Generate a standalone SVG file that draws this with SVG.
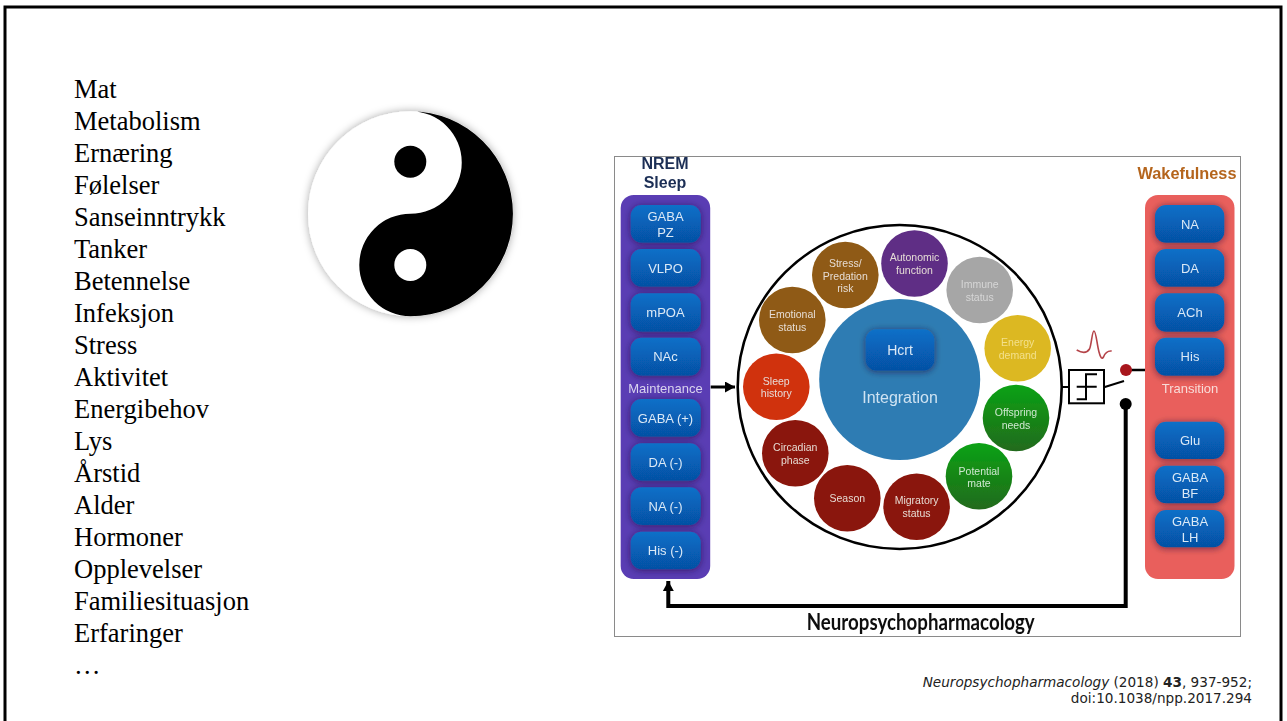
<svg xmlns="http://www.w3.org/2000/svg" width="1287" height="721" viewBox="0 0 1287 721">
<style>
.list{font-family:"Liberation Serif","Times New Roman",serif;font-size:26.5px;fill:#000}
.cite{font-family:"DejaVu Sans",Verdana,sans-serif;font-size:13.6px;fill:#222;text-anchor:end}
.t{font-family:"Liberation Sans",Arial,sans-serif;text-anchor:middle}
.c{font-size:10.5px;fill:#e6dcd6}
.g{fill:#cfe8cf}
.b{font-size:13px;fill:#dbe9f6}
.m{font-size:13px;fill:#d9d4ee}
.tr{font-size:13px;fill:#f8dcd8}
.box{fill:url(#bg);filter:url(#bs)}
.wire{fill:none;stroke:#000;stroke-linecap:butt}
</style>
<defs>
<linearGradient id="bg" x1="0" y1="0" x2="0" y2="1"><stop offset="0" stop-color="#0870c8"/><stop offset="1" stop-color="#0650a4"/></linearGradient>
<linearGradient id="gr" x1="0" y1="0" x2="0" y2="1"><stop offset="0" stop-color="#0ba214"/><stop offset="1" stop-color="#226a1c"/></linearGradient>
<filter id="bs" x="-30%" y="-40%" width="160%" height="180%"><feDropShadow dx="0" dy="1" stdDeviation="3.5" flood-color="#200830" flood-opacity=".6"/></filter>
<filter id="soft" x="-5%" y="-5%" width="110%" height="110%"><feGaussianBlur stdDeviation="0.5"/></filter>
<filter id="yy" x="-10%" y="-10%" width="120%" height="120%"><feDropShadow dx="0" dy="0" stdDeviation="4" flood-color="#000" flood-opacity=".35"/></filter>
<marker id="ah" markerUnits="userSpaceOnUse" markerWidth="12" markerHeight="12" refX="10" refY="5.5" orient="auto"><path d="M0 0L10 5.5L0 11Z" fill="#000"/></marker>
<clipPath id="fig"><rect x="615" y="157" width="625" height="479"/></clipPath>
</defs>

<rect width="1287" height="721" fill="#fff"/>
<path id="frame" d="M5 721V7H1281V721" fill="none" stroke="#000" stroke-width="3"/>

<g id="word-list" class="list">
<text x="74" y="98">Mat</text>
<text x="74" y="130">Metabolism</text>
<text x="74" y="162">Ernæring</text>
<text x="74" y="194">Følelser</text>
<text x="74" y="226">Sanseinntrykk</text>
<text x="74" y="258">Tanker</text>
<text x="74" y="290">Betennelse</text>
<text x="74" y="322">Infeksjon</text>
<text x="74" y="354">Stress</text>
<text x="74" y="386">Aktivitet</text>
<text x="74" y="418">Energibehov</text>
<text x="74" y="450">Lys</text>
<text x="74" y="482">Årstid</text>
<text x="74" y="514">Alder</text>
<text x="74" y="546">Hormoner</text>
<text x="74" y="578">Opplevelser</text>
<text x="74" y="610">Familiesituasjon</text>
<text x="74" y="642">Erfaringer</text>
<text x="74" y="674">…</text>
</g>

<g id="yin-yang">
<circle cx="410.5" cy="213.7" r="102.5" fill="#fff" filter="url(#yy)"/>
<path d="M410.5 111.2A102.5 102.5 0 0 1 410.5 316.2A51.25 51.25 0 0 1 410.5 213.7A51.25 51.25 0 0 0 410.5 111.2Z" fill="#000"/>
<circle cx="410.3" cy="161.7" r="16" fill="#000"/>
<circle cx="410.3" cy="265" r="16" fill="#fff"/>
</g>

<rect id="figure-frame" x="614.5" y="156.5" width="626" height="480" fill="#fff" stroke="#8a8a8a"/>

<g clip-path="url(#fig)">
<g filter="url(#soft)">
<g id="title-nrem" class="t" font-weight="700" font-size="16px" fill="#1b2f55">
<text x="665" y="169">NREM</text><text x="665" y="188">Sleep</text>
</g>
<text id="title-wake" class="t" x="1187" y="179" font-weight="700" font-size="16.3px" fill="#b5651d">Wakefulness</text>

<g id="panel-nrem">
<rect x="620.7" y="195" width="89.5" height="384" rx="13" fill="#5a3db4"/>
<text class="t m" x="665.5" y="392.5">Maintenance</text>
</g>
<g id="panel-wake">
<rect x="1145" y="195" width="89.5" height="384" rx="13" fill="#e95f5c"/>
<text class="t tr" x="1190" y="392.5">Transition</text>
</g>

<g id="n-gabapz"><rect class="box" x="630.7" y="205" width="70" height="37.7" rx="11"/><text class="t b" x="665.5" y="221">GABA</text><text class="t b" x="665.5" y="237">PZ</text></g>
<g id="n-vlpo"><rect class="box" x="630.7" y="249" width="70" height="37.7" rx="11"/><text class="t b" x="665.5" y="272.5">VLPO</text></g>
<g id="n-mpoa"><rect class="box" x="630.7" y="293.3" width="70" height="38.4" rx="11"/><text class="t b" x="665.5" y="317">mPOA</text></g>
<g id="n-nac"><rect class="box" x="630.7" y="337.7" width="70" height="38" rx="11"/><text class="t b" x="665.5" y="361">NAc</text></g>
<g id="n-gabap"><rect class="box" x="630.7" y="399" width="70" height="37.7" rx="11"/><text class="t b" x="665.5" y="422.5">GABA (+)</text></g>
<g id="n-dam"><rect class="box" x="630.7" y="443.3" width="70" height="37.4" rx="11"/><text class="t b" x="665.5" y="467">DA (-)</text></g>
<g id="n-nam"><rect class="box" x="630.7" y="487.3" width="70" height="37.7" rx="11"/><text class="t b" x="665.5" y="511">NA (-)</text></g>
<g id="n-hism"><rect class="box" x="630.7" y="531.7" width="70" height="37.6" rx="11"/><text class="t b" x="665.5" y="555">His (-)</text></g>

<g id="n-na"><rect class="box" x="1155" y="205" width="69.3" height="37.7" rx="11"/><text class="t b" x="1190" y="228.5">NA</text></g>
<g id="n-da"><rect class="box" x="1155" y="249" width="69.3" height="37.7" rx="11"/><text class="t b" x="1190" y="272.5">DA</text></g>
<g id="n-ach"><rect class="box" x="1155" y="293.3" width="69.3" height="38.4" rx="11"/><text class="t b" x="1190" y="317">ACh</text></g>
<g id="n-his"><rect class="box" x="1155" y="337.7" width="69.3" height="38" rx="11"/><text class="t b" x="1190" y="361">His</text></g>
<g id="n-glu"><rect class="box" x="1155" y="421.7" width="69.3" height="37.3" rx="11"/><text class="t b" x="1190" y="445">Glu</text></g>
<g id="n-gababf"><rect class="box" x="1155" y="465.7" width="69.3" height="37.6" rx="11"/><text class="t b" x="1190" y="482">GABA</text><text class="t b" x="1190" y="497.5">BF</text></g>
<g id="n-gabalh"><rect class="box" x="1155" y="510" width="69.3" height="37.3" rx="11"/><text class="t b" x="1190" y="526">GABA</text><text class="t b" x="1190" y="541.5">LH</text></g>

<circle id="ring" cx="899.7" cy="387" r="162" fill="#fff" stroke="#000" stroke-width="2.6"/>

<g id="n-integration">
<circle cx="899.7" cy="379.5" r="80.5" fill="#2f7cb3"/>
<text class="t" x="900" y="403" font-size="16px" fill="#cfe3f2">Integration</text>
</g>
<g id="n-hcrt"><rect class="box" x="865.7" y="329.3" width="68.6" height="41.4" rx="11"/><text class="t" x="900" y="355" font-size="14px" fill="#dbe9f6">Hcrt</text></g>

<g id="n-autonomic"><circle cx="914.5" cy="263.5" r="33.3" fill="#5e2d85"/><text class="t c" x="914.5" y="261">Autonomic</text><text class="t c" x="914.5" y="273.5">function</text></g>
<g id="n-stress"><circle cx="845.3" cy="275" r="33.3" fill="#8f5a12"/><text class="t c" x="845.3" y="266.5">Stress/</text><text class="t c" x="845.3" y="279.5">Predation</text><text class="t c" x="845.3" y="292">risk</text></g>
<g id="n-emotional"><circle cx="792.3" cy="320" r="33.3" fill="#8f5a12"/><text class="t c" x="792.3" y="318">Emotional</text><text class="t c" x="792.3" y="330.5">status</text></g>
<g id="n-sleep"><circle cx="776.3" cy="386.7" r="33.3" fill="#d03010"/><text class="t c" x="776.3" y="384.5">Sleep</text><text class="t c" x="776.3" y="397">history</text></g>
<g id="n-circadian"><circle cx="795.3" cy="453.3" r="33.3" fill="#8a1408"/><text class="t c" x="795.3" y="451">Circadian</text><text class="t c" x="795.3" y="463.5">phase</text></g>
<g id="n-season"><circle cx="847.3" cy="498.3" r="33.3" fill="#8a1408"/><text class="t c" x="847.3" y="502">Season</text></g>
<g id="n-migratory"><circle cx="916.6" cy="506.7" r="33.3" fill="#8a1408"/><text class="t c" x="916.6" y="504">Migratory</text><text class="t c" x="916.6" y="516.5">status</text></g>
<g id="n-potential"><circle cx="979" cy="476.3" r="33.3" fill="url(#gr)"/><text class="t c g" x="979" y="474.5" style="fill:#cfe8cf">Potential</text><text class="t c g" x="979" y="487" style="fill:#cfe8cf">mate</text></g>
<g id="n-offspring"><circle cx="1016" cy="418" r="33.3" fill="url(#gr)"/><text class="t c g" x="1016" y="416" style="fill:#cfe8cf">Offspring</text><text class="t c g" x="1016" y="428.5" style="fill:#cfe8cf">needs</text></g>
<g id="n-energy"><circle cx="1017.7" cy="348.3" r="33.3" fill="#dcb820"/><text class="t c" x="1017.7" y="346" style="fill:#f3e08c">Energy</text><text class="t c" x="1017.7" y="358.5" style="fill:#f3e08c">demand</text></g>
<g id="n-immune"><circle cx="979.7" cy="290" r="33.3" fill="#a6a6a6"/><text class="t c" x="979.7" y="288" style="fill:#d6d6d6">Immune</text><text class="t c" x="979.7" y="300.5" style="fill:#d6d6d6">status</text></g>

<g id="connectors">
<path class="wire" stroke-width="3" d="M710.7 387H735" marker-end="url(#ah)"/>
<path class="wire" stroke-width="4" d="M1125.7 404V606H668.3V581" marker-end="url(#ah)"/>
<path class="wire" stroke-width="2.5" d="M1126 370H1145"/>
<path class="wire" stroke-width="2" d="M1061 387H1069"/>
<path class="wire" stroke-width="2" d="M1104 387.3L1124 381"/>
</g>

<g id="n-threshold">
<rect x="1069" y="370" width="35" height="33.3" fill="#fff" stroke="#000" stroke-width="2"/>
<path d="M1097 374.3H1086V399.3H1076.7M1076.7 386.7H1096.7" fill="none" stroke="#000" stroke-width="2"/>
</g>
<path id="n-pulse" d="M1076.7 350C1082 353 1087 353 1089.5 349C1091.5 345 1092 331 1094 331C1096 331 1097 345 1099 352C1100.5 358 1102 359.5 1103.5 357C1105 353 1107 350.5 1111.7 351" fill="none" stroke="#b5444a" stroke-width="1.6"/>
<circle id="n-reddot" cx="1126" cy="370" r="6" fill="#a8141e"/>
<circle id="n-blackdot" cx="1125.7" cy="404" r="6" fill="#000"/>

<text id="publisher" x="806.7" y="630" font-family="Lato,'Open Sans',sans-serif" font-weight="700" font-size="22px" fill="#111" textLength="228" lengthAdjust="spacingAndGlyphs">Neuropsychopharmacology</text>
</g>
</g>

<g id="citation" class="cite">
<text x="1252" y="686.5"><tspan font-style="italic">Neuropsychopharmacology</tspan> (2018) <tspan font-weight="700">43</tspan>, 937-952;</text>
<text x="1252" y="702.5">doi:10.1038/npp.2017.294</text>
</g>
</svg>
